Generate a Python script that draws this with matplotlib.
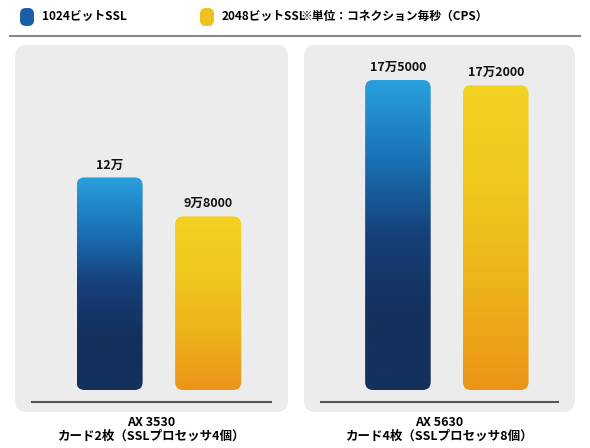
import numpy as np
import matplotlib
matplotlib.use("Agg")
import matplotlib.pyplot as plt
from matplotlib.patches import FancyBboxPatch
from matplotlib.colors import LinearSegmentedColormap
from matplotlib.lines import Line2D

plt.rcParams["font.family"] = ["Noto Sans CJK JP", "DejaVu Sans"]

series_names = ["1024ビットSSL", "2048ビットSSL"]
unit_note = "※単位：コネクション毎秒（CPS）"
models = ["AX 3530\nカード2枚（SSLプロセッサ4個）", "AX 5630\nカード4枚（SSLプロセッサ8個）"]
values = [[120000, 98000], [175000, 172000]]
value_labels = [["12万", "9万8000"], ["17万5000", "17万2000"]]

W, H = 590, 448
fig = plt.figure(figsize=(W / 100, H / 100), dpi=100)
fig.patch.set_facecolor("white")

blue = LinearSegmentedColormap.from_list("b", ["#2aa0de", "#1a72b6", "#16407a", "#14305c", "#14305c"])
yellow = LinearSegmentedColormap.from_list("y", ["#f2d222", "#f0c81e", "#eeb21a", "#eb9418"])
cmaps = [blue, yellow]
legend_colors = ["#1a5fa8", "#f0c020"]


def fx(px):
    return px / W


def fy(py):
    return 1 - py / H


# legend
for i, (lx, tx) in enumerate([(20, 42), (200, 222)]):
    fig.patches.append(FancyBboxPatch((fx(lx), fy(26)), fx(14), 18 / H,
                                      boxstyle="round,pad=0,rounding_size=0.01",
                                      mutation_aspect=W / H, transform=fig.transFigure,
                                      facecolor=legend_colors[i], edgecolor="none"))
    fig.text(fx(tx), fy(16), series_names[i], fontsize=8.5, fontweight="bold", va="center")
fig.text(fx(300), fy(16), unit_note, fontsize=8.5, fontweight="bold", va="center")
fig.lines.append(Line2D([fx(10), fx(580)], [fy(36), fy(36)], transform=fig.transFigure,
                        color="#888888", lw=1.5))

panels = [(15, 288), (304, 575)]
top_px, zero_px = 45, 390
ymax = 175000 * (zero_px - top_px) / 310
for p, (x0, x1) in enumerate(panels):
    fig.patches.append(FancyBboxPatch((fx(x0), fy(412)), fx(x1 - x0), (412 - top_px) / H,
                                      boxstyle="round,pad=0,rounding_size=0.02",
                                      mutation_aspect=W / H, transform=fig.transFigure,
                                      facecolor="#ececec", edgecolor="none", zorder=-5))
    fig.lines.append(Line2D([fx(x0 + 17), fx(x1 - 17)], [fy(402), fy(402)],
                            transform=fig.transFigure, color="#555555", lw=1.5))
    ax = fig.add_axes([fx(x0), fy(zero_px), fx(x1 - x0), (zero_px - top_px) / H])
    ax.axis("off")
    ax_w = x1 - x0
    xl = (-0.96, 1.81)
    xpp = (xl[1] - xl[0]) / ax_w
    ypp = ymax / (zero_px - top_px)
    bars = ax.bar([0, 1], values[p], width=0.67, color="none")
    for i, b in enumerate(bars):
        bx, bw, bh = b.get_x(), b.get_width(), b.get_height()
        clip = FancyBboxPatch((bx, 0), bw, bh, boxstyle="round,pad=0,rounding_size=%f" % (8 * xpp),
                              mutation_aspect=ypp / xpp, transform=ax.transData,
                              facecolor="none", edgecolor="none")
        ax.add_patch(clip)
        grad = np.linspace(0, 1, 256).reshape(-1, 1)
        im = ax.imshow(grad, cmap=cmaps[i], aspect="auto", origin="upper",
                       extent=(bx, bx + bw, 0, bh))
        im.set_clip_path(clip)
        ax.text(b.get_x() + bw / 2, bh + 6 * ypp, value_labels[p][i], ha="center", va="bottom",
                fontsize=9, fontweight="bold", color="#111111")
    ax.set_xlim(*xl)
    ax.set_ylim(0, ymax)
    fig.text(fx((x0 + x1) / 2), fy(429), models[p], ha="center", va="center",
             fontsize=9, fontweight="bold", linespacing=1.1)

fig.savefig("out.png", dpi=100)
